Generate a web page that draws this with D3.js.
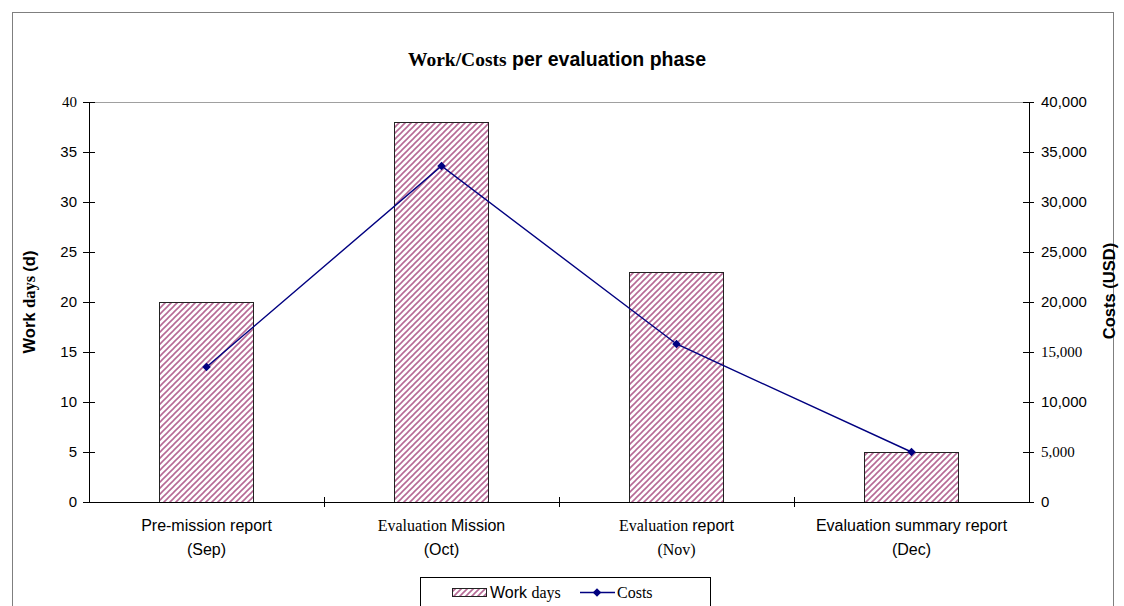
<!DOCTYPE html>
<html><head><meta charset="utf-8">
<script src="https://cdn.jsdelivr.net/npm/d3@7"></script>
<style>
body{margin:0;background:#fff;}
svg{display:block;}
.sans{font-family:"Liberation Sans",Arial,sans-serif;}
.serif{font-family:"Liberation Serif","Times New Roman",serif;}
</style>
</head><body>
<svg id="chart" width="1124" height="606"></svg>
<script>
// ---- data ----
const categories = ["Pre-mission report (Sep)", "Evaluation Mission (Oct)", "Evaluation report (Nov)", "Evaluation summary report (Dec)"];
const labelLine1 = [
  [["Pre-mission report","sans"]],
  [["Evaluation ","serif"],["Mission","sans"]],
  [["Evaluation ","serif"],["report","sans"]],
  [["Evaluation summary report","sans"]]
];
const labelLine2 = [["(Sep)","sans"],["(Oct)","sans"],["(Nov)","serif"],["(Dec)","sans"]];
const workDays = [20, 38, 23, 5];
const costs = [13500, 33600, 15800, 5000];
const leftTicks = [0,5,10,15,20,25,30,35,40];
const rightTicks = [0,5000,10000,15000,20000,25000,30000,35000,40000];
const serifLeftTicks = [40];
const serifRightTicks = [15000, 5000];

const svg = d3.select("#chart");
const plot = {l: 89, r: 1029, t: 102, b: 502};

// outer border
svg.append("rect").attr("x",12.5).attr("y",12.5).attr("width",1101).attr("height",620)
  .attr("fill","none").attr("stroke","#7f7f7f").attr("stroke-width",1);

// hatch pattern
const defs = svg.append("defs");
const pat = defs.append("pattern").attr("id","hatch").attr("patternUnits","userSpaceOnUse")
  .attr("width",6).attr("height",6);
pat.append("rect").attr("width",6).attr("height",6).attr("fill","#ffffff");
pat.append("path").attr("d","M-1,7 L7,-1 M-1,1 L1,-1 M5,7 L7,5")
  .attr("stroke","#b66a96").attr("stroke-width",1.6);

const x = d3.scaleBand().domain(categories).range([plot.l, plot.r]).paddingInner(0.6).paddingOuter(0.3);
const yL = d3.scaleLinear().domain([0,40]).range([plot.b, plot.t]);
const yR = d3.scaleLinear().domain([0,40000]).range([plot.b, plot.t]);
const xi = d3.scaleLinear().domain([0, categories.length]).range([plot.l, plot.r]);

// top plot border (gray)
svg.append("line").attr("x1",plot.l).attr("x2",plot.r).attr("y1",plot.t+0.5).attr("y2",plot.t+0.5)
  .attr("stroke","#a0a0a0").attr("stroke-width",1.2);

// bars
svg.append("g").selectAll("rect").data(workDays).join("rect")
  .attr("x",(d,i)=>Math.round(x(categories[i]))-0.5)
  .attr("y",d=>Math.round(yL(d))+0.5)
  .attr("width",x.bandwidth())
  .attr("height",d=>yL(0)-Math.round(yL(d)))
  .attr("fill","url(#hatch)").attr("stroke","#222").attr("stroke-width",1);

// left axis
const gL = svg.append("g").attr("transform",`translate(${plot.l},0)`)
  .call(d3.axisLeft(yL).tickValues(leftTicks).tickSize(6).tickSizeOuter(0));
gL.select(".domain").attr("stroke","#000");
gL.selectAll(".tick line").attr("x2",6).attr("x1",-6).attr("stroke","#000");
gL.selectAll(".tick text").attr("class",d=>serifLeftTicks.includes(d)?"serif":"sans")
  .attr("font-size",15).attr("fill","#000").attr("x",-12);

// right axis
const gR = svg.append("g").attr("transform",`translate(${plot.r},0)`)
  .call(d3.axisRight(yR).tickValues(rightTicks).tickSize(6).tickSizeOuter(0).tickFormat(d3.format(",")));
gR.select(".domain").attr("stroke","#000");
gR.selectAll(".tick line").attr("x1",-6).attr("x2",5).attr("stroke","#000");
gR.selectAll(".tick text").attr("class",d=>serifRightTicks.includes(d)?"serif":"sans")
  .attr("font-size",15).attr("fill","#000").attr("x",12);

// bottom axis
const gB = svg.append("g").attr("transform",`translate(0,${plot.b})`)
  .call(d3.axisBottom(xi).tickValues([1,2,3]).tickSize(5).tickSizeOuter(0).tickFormat(""));
gB.select(".domain").attr("stroke","#000");
gB.selectAll(".tick line").attr("y1",-5).attr("y2",5).attr("stroke","#000");

// category labels
const lab = svg.append("g");
categories.forEach((c,i)=>{
  const cx = x(c) + x.bandwidth()/2;
  const t1 = lab.append("text").attr("x",cx).attr("y",531).attr("text-anchor","middle").attr("font-size",16);
  labelLine1[i].forEach(p=>t1.append("tspan").attr("class",p[1]).text(p[0]));
  lab.append("text").attr("x",cx).attr("y",555).attr("text-anchor","middle").attr("font-size",16)
    .attr("class",labelLine2[i][1]).text(labelLine2[i][0]);
});

// cost line
const cx = (d,i)=>x(categories[i])+x.bandwidth()/2;
const line = d3.line().x(cx).y(d=>yR(d));
svg.append("path").datum(costs).attr("d",line).attr("fill","none").attr("stroke","#000080").attr("stroke-width",1.4);
svg.append("g").selectAll("path").data(costs).join("path")
  .attr("transform",(d,i)=>`translate(${cx(d,i)},${yR(d)}) rotate(45)`)
  .attr("d",d3.symbol(d3.symbolSquare, 36)())
  .attr("fill","#000080");

// title
const title = svg.append("text").attr("x",557).attr("y",66).attr("text-anchor","middle").attr("font-size",19.5).attr("font-weight","bold");
title.append("tspan").attr("class","serif").text("Work/Costs");
title.append("tspan").attr("class","sans").text(" per evaluation phase");

// left axis title
const tl = svg.append("text").attr("transform","translate(35,302) rotate(-90)").attr("text-anchor","middle").attr("font-size",16.5).attr("font-weight","bold");
tl.append("tspan").attr("class","sans").text("Work ");
tl.append("tspan").attr("class","serif").text("days ");
tl.append("tspan").attr("class","sans").text("(d)");

// right axis title
svg.append("text").attr("transform","translate(1115,291) rotate(-90)").attr("text-anchor","middle")
  .attr("font-size",16.5).attr("font-weight","bold").attr("class","sans").text("Costs (USD)");

// legend
const lg = svg.append("g");
lg.append("rect").attr("x",420.5).attr("y",577.5).attr("width",290).attr("height",40)
  .attr("fill","#fff").attr("stroke","#000").attr("stroke-width",1);
lg.append("rect").attr("x",452.5).attr("y",588.5).attr("width",34).attr("height",8)
  .attr("fill","url(#hatch)").attr("stroke","#222").attr("stroke-width",1);
const lt = lg.append("text").attr("x",490).attr("y",598).attr("font-size",16);
lt.append("tspan").attr("class","sans").text("Work ");
lt.append("tspan").attr("class","serif").text("days");
lg.append("line").attr("x1",580).attr("x2",615).attr("y1",592.5).attr("y2",592.5).attr("stroke","#000080").attr("stroke-width",1.4);
lg.append("path").attr("transform","translate(597,592.5) rotate(45)").attr("d",d3.symbol(d3.symbolSquare,36)()).attr("fill","#000080");
lg.append("text").attr("x",617).attr("y",598).attr("font-size",16).attr("class","serif").text("Costs");
</script>
</body></html>
